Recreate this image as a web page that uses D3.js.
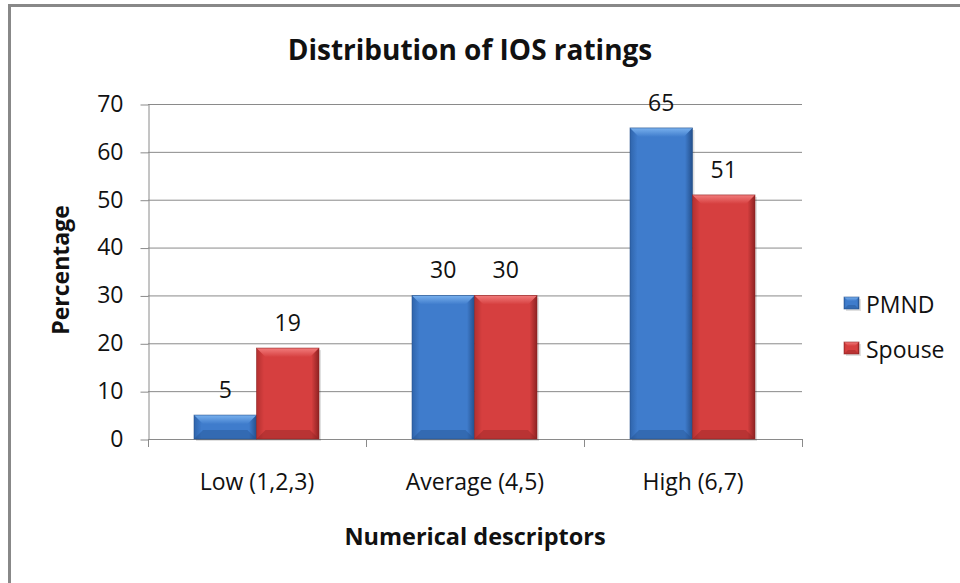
<!DOCTYPE html>
<html>
<head>
<meta charset="utf-8">
<script src="https://cdn.jsdelivr.net/npm/d3@7"></script>
<style>
  body { margin: 0; background: #fff; }
  text { font-family: "Open Sans", "Noto Sans", sans-serif; fill: #111; }
</style>
</head>
<body>
<svg id="chart" width="960" height="583"></svg>
<script>
// data
const categories = ["Low (1,2,3)", "Average (4,5)", "High (6,7)"];
const seriesNames = ["PMND", "Spouse"];
const pmnd = [5, 30, 65];
const spouse = [19, 30, 51];
const yTicks = [0, 10, 20, 30, 40, 50, 60, 70];

const palette = {
  PMND: { base: "#3f7ccc", light: "#79b1ee", dark: "#24508c", side: "#2f64ab" },
  Spouse: { base: "#d63f3f", light: "#f27c7c", dark: "#8e2222", side: "#b33030" }
};

const svg = d3.select("#chart");

// chart frame
svg.append("path")
  .attr("d", "M9.5,600 V5.5 H962")
  .attr("fill", "none").attr("stroke", "#888").attr("stroke-width", 3);

const plotL = 148, plotR = 802, plotT = 104, plotB = 439;

const x = d3.scaleBand().domain(categories).range([plotL, plotR]);
const xs = d3.scaleBand().domain(seriesNames).range([46, 171]);
const y = d3.scaleLinear().domain([0, 70]).range([plotB, plotT]);

// gridlines
svg.append("g").selectAll("line").data(yTicks.filter(d => d > 0)).join("line")
  .attr("x1", plotL).attr("x2", plotR)
  .attr("y1", d => y(d) + 0.5).attr("y2", d => y(d) + 0.5)
  .attr("stroke", "#8a8a8a").attr("stroke-width", 1);

// y axis
const yAxis = svg.append("g").attr("transform", `translate(${plotL + 0.5},0)`)
  .call(d3.axisLeft(y).tickValues(yTicks).tickSize(8).tickPadding(17).tickSizeOuter(0));
yAxis.select(".domain").attr("stroke", "#8a8a8a");
yAxis.selectAll(".tick line").attr("stroke", "#8a8a8a").attr("transform", "translate(0,0.5)");
yAxis.selectAll(".tick text").attr("font-size", 23).attr("font-family", "Open Sans").attr("fill", "#111");

// x axis baseline + boundary ticks
const xg = svg.append("g");
xg.append("line").attr("x1", plotL).attr("x2", plotR + 1)
  .attr("y1", plotB + 0.5).attr("y2", plotB + 0.5).attr("stroke", "#8a8a8a");
const bounds = categories.map(c => x(c)).concat([x(categories[2]) + x.bandwidth()]);
xg.selectAll("line.tk").data(bounds).join("line").attr("class", "tk")
  .attr("x1", d => Math.round(d) + 0.5).attr("x2", d => Math.round(d) + 0.5)
  .attr("y1", plotB).attr("y2", plotB + 8).attr("stroke", "#8a8a8a");
xg.selectAll("text").data(categories).join("text")
  .attr("x", d => x(d) + x.bandwidth() / 2).attr("y", 490)
  .attr("text-anchor", "middle").attr("font-size", 23).text(d => d);

// gradients + bevel helper
const defs = svg.append("defs");
seriesNames.forEach(s => {
  const p = palette[s];
  const g = defs.append("linearGradient").attr("id", "g" + s).attr("x1", 0).attr("x2", 1).attr("y1", 0).attr("y2", 0);
  g.append("stop").attr("offset", 0).attr("stop-color", p.side);
  g.append("stop").attr("offset", 0.12).attr("stop-color", p.base);
  g.append("stop").attr("offset", 0.88).attr("stop-color", p.base);
  g.append("stop").attr("offset", 1).attr("stop-color", p.dark);
  const t = defs.append("linearGradient").attr("id", "t" + s).attr("x1", 0).attr("x2", 0).attr("y1", 0).attr("y2", 1);
  t.append("stop").attr("offset", 0).attr("stop-color", p.light);
  t.append("stop").attr("offset", 1).attr("stop-color", p.base);
});

function bevelBar(sel, bx, by, w, h, s, b) {
  const p = palette[s];
  b = Math.min(b, h / 2, w / 2);
  sel.append("rect").attr("x", bx + 2).attr("y", by + 2).attr("width", w).attr("height", h)
    .attr("fill", "#000").attr("opacity", 0.12);
  sel.append("rect").attr("x", bx).attr("y", by).attr("width", w).attr("height", h)
    .attr("fill", `url(#g${s})`);
  sel.append("polygon")
    .attr("points", [[bx, by], [bx + w, by], [bx + w - b, by + b], [bx + b, by + b]].join(" "))
    .attr("fill", `url(#t${s})`);
  sel.append("polygon")
    .attr("points", [[bx, by + h], [bx + w, by + h], [bx + w - b, by + h - b], [bx + b, by + h - b]].join(" "))
    .attr("fill", p.dark).attr("opacity", 0.4);
  sel.append("rect").attr("x", bx).attr("y", by).attr("width", w).attr("height", h)
    .attr("fill", "none").attr("stroke", p.dark).attr("stroke-width", 0.8).attr("opacity", 0.7);
}

// bars
const series = [{ name: "PMND", values: pmnd }, { name: "Spouse", values: spouse }];
const barsG = svg.append("g");
series.forEach(sr => {
  sr.values.forEach((v, i) => {
    const bx = x(categories[i]) + xs(sr.name);
    const w = xs.bandwidth();
    bevelBar(barsG, bx, y(v), w, plotB - y(v), sr.name, 9);
    barsG.append("text").attr("x", bx + w / 2).attr("y", y(v) - 17)
      .attr("text-anchor", "middle").attr("font-size", 23).text(v);
  });
});

// title + axis titles
svg.append("text").attr("x", 470).attr("y", 60).attr("text-anchor", "middle")
  .attr("font-size", 28).attr("font-weight", "bold").text("Distribution of IOS ratings");
svg.append("text").attr("x", 475).attr("y", 545).attr("text-anchor", "middle")
  .attr("font-size", 23.5).attr("font-weight", "bold").text("Numerical descriptors");
svg.append("text").attr("transform", "translate(69,270) rotate(-90)").attr("text-anchor", "middle")
  .attr("font-size", 23).attr("font-weight", "bold").text("Percentage");

// legend
const legend = svg.append("g");
seriesNames.forEach((s, i) => {
  const ly = 297 + i * 45;
  bevelBar(legend, 844, ly, 15, 12, s, 4);
  legend.append("text").attr("x", 866).attr("y", ly + 16).attr("font-size", 23).text(s);
});
</script>
</body>
</html>
